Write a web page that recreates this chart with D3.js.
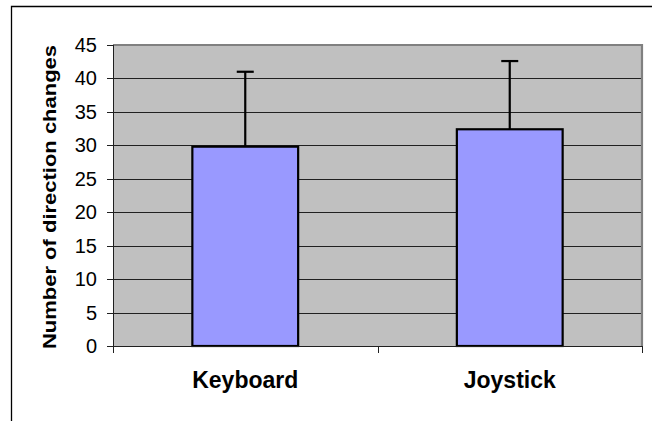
<!DOCTYPE html>
<html>
<head>
<meta charset="utf-8">
<script src="https://cdn.jsdelivr.net/npm/d3@7"></script>
<style>
  body { margin: 0; background: #fff; }
  svg { display: block; font-family: "Liberation Sans", Arial, sans-serif; }
</style>
</head>
<body>
<svg width="652" height="421"></svg>
<script>
// data
var categories = ["Keyboard", "Joystick"];
var means = [29.8, 32.4];
var errors = [11.2, 10.2];
var yTicks = [0, 5, 10, 15, 20, 25, 30, 35, 40, 45];

var width = 652, height = 421;
var plot = { left: 113, top: 45, right: 642, bottom: 346 };

var svg = d3.select("svg");

// outer chart frame (cropped at right/bottom)
svg.append("path")
  .attr("d", "M11.5," + (height + 2) + "V6.5H" + (width + 2))
  .attr("fill", "none")
  .attr("stroke", "#000")
  .attr("stroke-width", 1.3);

var x = d3.scaleBand().domain(categories).range([plot.left, plot.right]).padding(0);
var y = d3.scaleLinear().domain([0, 45]).range([plot.bottom, plot.top]);
var barW = x.bandwidth() * 0.4;

// plot background
svg.append("rect")
  .attr("x", plot.left).attr("y", plot.top)
  .attr("width", plot.right - plot.left).attr("height", plot.bottom - plot.top)
  .attr("fill", "#c0c0c0");

// gridlines
svg.append("g").selectAll("line")
  .data(yTicks.filter(function(d){ return d > 0 && d < 45; }))
  .enter().append("line")
  .attr("x1", plot.left).attr("x2", plot.right)
  .attr("y1", function(d){ return Math.round(y(d)) + 0.5; })
  .attr("y2", function(d){ return Math.round(y(d)) + 0.5; })
  .attr("stroke", "#202020").attr("stroke-width", 1);

// plot border, top and right in grey
svg.append("path")
  .attr("d", "M" + plot.left + "," + plot.top + "H" + plot.right + "V" + plot.bottom)
  .attr("fill", "none").attr("stroke", "#808080").attr("stroke-width", 2.2);

// bars
var bars = svg.append("g");
bars.selectAll("rect")
  .data(categories)
  .enter().append("rect")
  .attr("x", function(d){ return x(d) + (x.bandwidth() - barW) / 2; })
  .attr("y", function(d, i){ return y(means[i]); })
  .attr("width", barW)
  .attr("height", function(d, i){ return y(0) - y(means[i]); })
  .attr("fill", "#9999ff")
  .attr("stroke", "#000").attr("stroke-width", 2.2);

// error bars (upper only)
var err = svg.append("g").attr("stroke", "#000").attr("stroke-width", 2.2);
categories.forEach(function(c, i){
  var cx = x(c) + x.bandwidth() / 2;
  err.append("line")
    .attr("x1", cx).attr("x2", cx)
    .attr("y1", y(means[i])).attr("y2", y(means[i] + errors[i]));
  err.append("line")
    .attr("x1", cx - 8.5).attr("x2", cx + 8.5)
    .attr("y1", y(means[i] + errors[i])).attr("y2", y(means[i] + errors[i]));
});

// y axis
var yAxis = svg.append("g");
yAxis.append("line")
  .attr("x1", plot.left + 0.5).attr("x2", plot.left + 0.5)
  .attr("y1", plot.top).attr("y2", plot.bottom + 1)
  .attr("stroke", "#202020");
yAxis.selectAll("line.tick")
  .data(yTicks).enter().append("line")
  .attr("class", "tick")
  .attr("x1", plot.left - 6).attr("x2", plot.left)
  .attr("y1", function(d){ return Math.round(y(d)) + 0.5; })
  .attr("y2", function(d){ return Math.round(y(d)) + 0.5; })
  .attr("stroke", "#202020");
yAxis.selectAll("text")
  .data(yTicks).enter().append("text")
  .attr("x", 97)
  .attr("y", function(d){ return y(d) + 7; })
  .attr("text-anchor", "end")
  .attr("font-size", 20)
  .attr("fill", "#000")
  .text(function(d){ return d; });

// x axis
var xAxis = svg.append("g");
xAxis.append("line")
  .attr("x1", plot.left).attr("x2", plot.right)
  .attr("y1", plot.bottom + 0.5).attr("y2", plot.bottom + 0.5)
  .attr("stroke", "#202020");
var xTickPos = categories.map(function(c){ return x(c); }).concat([plot.right]);
xAxis.selectAll("line.tick")
  .data(xTickPos).enter().append("line")
  .attr("class", "tick")
  .attr("x1", function(d){ return Math.round(d) + 0.5; })
  .attr("x2", function(d){ return Math.round(d) + 0.5; })
  .attr("y1", plot.bottom).attr("y2", plot.bottom + 7)
  .attr("stroke", "#202020");
xAxis.selectAll("text")
  .data(categories).enter().append("text")
  .attr("x", function(d){ return x(d) + x.bandwidth() / 2; })
  .attr("y", 388)
  .attr("text-anchor", "middle")
  .attr("font-size", 23)
  .attr("font-weight", "bold")
  .text(function(d){ return d; });

// y axis title
svg.append("text")
  .attr("transform", "translate(55.5," + 197 + ") rotate(-90) scale(1,0.8)")
  .attr("text-anchor", "middle")
  .attr("font-size", 22)
  .attr("font-weight", "bold")
  .text("Number of direction changes");
</script>
</body>
</html>
